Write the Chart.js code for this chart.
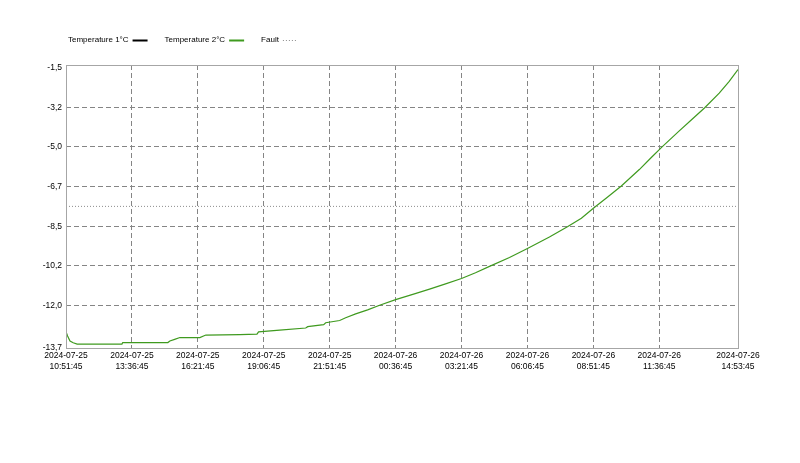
<!DOCTYPE html>
<html>
<head>
<meta charset="utf-8">
<script src="https://cdn.jsdelivr.net/npm/chart.js@4.4.1/dist/chart.umd.min.js"></script>
<style>
  html, body { margin: 0; padding: 0; background: #fff; }
  #chart { display: block; }
</style>
</head>
<body>
<canvas id="chart" width="800" height="463"></canvas>
<script>
// minutes since 2024-07-25 10:51:45
const sampleMinutes = [0, 4, 10, 18, 28, 140, 142, 255, 260, 272, 285, 335, 350, 435, 478, 482,
  535, 600, 605, 645, 650, 685, 700, 725, 755, 785, 825, 870, 910, 950, 990, 1025, 1060,
  1110, 1155, 1210, 1255, 1290, 1320, 1355, 1390, 1435, 1465, 1492, 1535, 1565, 1598,
  1635, 1660, 1682];
const temp2 = [-13.11, -13.30, -13.52, -13.60, -13.66, -13.66, -13.59, -13.59, -13.52, -13.45,
  -13.37, -13.37, -13.26, -13.24, -13.22, -13.12, -13.04, -12.95, -12.89, -12.80, -12.72,
  -12.62, -12.50, -12.33, -12.15, -11.95, -11.70, -11.46, -11.24, -11.01, -10.77, -10.52,
  -10.24, -9.85, -9.45, -8.95, -8.50, -8.12, -7.68, -7.20, -6.70, -5.98, -5.45, -4.98,
  -4.28, -3.80, -3.27, -2.62, -2.10, -1.58];
const temp1 = [];
const faultLevel = -7.6;

const xTickMinutes = [0, 165, 330, 495, 660, 825, 990, 1155, 1320, 1485, 1682];
const yTickValues = [-13.83, -11.957, -10.214, -8.471, -6.729, -4.986, -3.243, -1.5];
const yTickLabels = ['-13,7', '-12,0', '-10,2', '-8,5', '-6,7', '-5,0', '-3,2', '-1,5'];

const startTime = Date.UTC(2024, 6, 25, 10, 51, 45);
const FONT = 'Liberation Sans, Arial, sans-serif';
const GRID = '#858585';

function pad(n) { return String(n).padStart(2, '0'); }

function timeLabel(min) {
  const d = new Date(startTime + min * 60000);
  return [
    d.getUTCFullYear() + '-' + pad(d.getUTCMonth() + 1) + '-' + pad(d.getUTCDate()),
    pad(d.getUTCHours()) + ':' + pad(d.getUTCMinutes()) + ':' + pad(d.getUTCSeconds())
  ];
}

const legendItems = [
  { text: 'Temperature 1°C', color: '#000000', width: 2, dash: [] },
  { text: 'Temperature 2°C', color: '#3f9a1f', width: 2, dash: [] },
  { text: 'Fault', color: '#8c8c8c', width: 1, dash: [1, 2] },
];

// legend with the swatch after the text, plus a full frame round the plot
const framePlugin = {
  id: 'frame',
  afterDraw(chart) {
    const ctx = chart.ctx;
    const a = chart.chartArea;
    ctx.save();
    ctx.strokeStyle = '#a6a6a6';
    ctx.lineWidth = 1;
    ctx.setLineDash([]);
    ctx.strokeRect(Math.round(a.left) + 0.5, Math.round(a.top) + 0.5,
      Math.round(a.right - a.left), Math.round(a.bottom - a.top));

    ctx.font = '8px ' + FONT;
    ctx.textBaseline = 'middle';
    ctx.fillStyle = '#000';
    let x = 68;
    const y = 40;
    legendItems.forEach(item => {
      ctx.fillText(item.text, x, y);
      x += ctx.measureText(item.text).width + 4;
      ctx.beginPath();
      ctx.strokeStyle = item.color;
      ctx.lineWidth = item.width;
      ctx.setLineDash(item.dash);
      ctx.moveTo(x, y + 0.5);
      ctx.lineTo(x + 15, y + 0.5);
      ctx.stroke();
      ctx.setLineDash([]);
      x += 15 + 17;
    });
    ctx.restore();
  }
};

const ctx = document.getElementById('chart').getContext('2d');
const chart = new Chart(ctx, {
  type: 'line',
  data: {
    datasets: [
      {
        label: 'Fault',
        data: [{ x: 0, y: faultLevel }, { x: 1682, y: faultLevel }],
        borderColor: '#8c8c8c',
        borderWidth: 1,
        borderDash: [1, 2],
        pointRadius: 0,
      },
      {
        label: 'Temperature 1°C',
        data: temp1.map((v, i) => ({ x: sampleMinutes[i], y: v })),
        borderColor: '#000000',
        borderWidth: 1.2,
        pointRadius: 0,
      },
      {
        label: 'Temperature 2°C',
        data: temp2.map((v, i) => ({ x: sampleMinutes[i], y: v })),
        borderColor: '#3f9a1f',
        borderWidth: 1.2,
        pointRadius: 0,
        tension: 0,
      },
    ],
  },
  options: {
    responsive: false,
    animation: false,
    layout: { padding: { left: 0, right: 62, top: 65, bottom: 75 } },
    plugins: {
      legend: { display: false },
      tooltip: { enabled: false },
    },
    scales: {
      x: {
        type: 'linear',
        min: 0,
        max: 1682,
        afterBuildTicks: scale => {
          scale.ticks = xTickMinutes.map(v => ({ value: v }));
        },
        afterFit: scale => { scale.height = 40; },
        grid: { color: GRID, drawTicks: false, lineWidth: 1 },
        border: { display: false, dash: [5, 3] },
        ticks: {
          autoSkip: false,
          maxRotation: 0,
          padding: 3,
          color: '#000',
          font: { family: FONT, size: 8.5 },
          callback: v => timeLabel(v),
        },
      },
      y: {
        type: 'linear',
        min: -13.83,
        max: -1.38,
        afterBuildTicks: scale => {
          scale.ticks = yTickValues.map(v => ({ value: v }));
        },
        afterFit: scale => { scale.width = 66; },
        grid: {
          color: c => (c.index === yTickValues.length - 1 ? 'rgba(0,0,0,0)' : GRID),
          drawTicks: false,
          lineWidth: 1,
        },
        border: { display: false, dash: [5, 3] },
        ticks: {
          autoSkip: false,
          padding: 4,
          color: '#000',
          font: { family: FONT, size: 8.5 },
          callback: (v, i) => yTickLabels[i],
        },
      },
    },
  },
  plugins: [framePlugin],
});
</script>
</body>
</html>
